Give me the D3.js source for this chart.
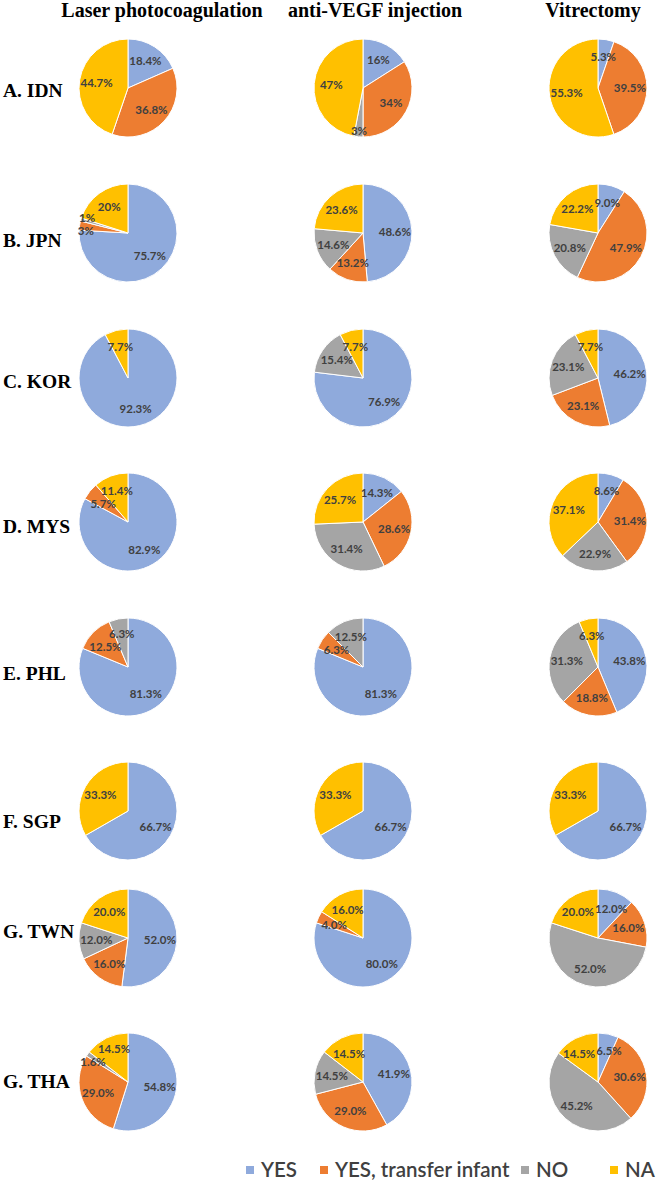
<!DOCTYPE html>
<html>
<head>
<meta charset="utf-8">
<script src="https://cdn.jsdelivr.net/npm/d3@7"></script>
<style>
  html, body { margin: 0; padding: 0; background: #ffffff; }
  svg { display: block; }
</style>
</head>
<body>
<script>
// ---------------- data ----------------
const countries = ["A. IDN", "B. JPN", "C. KOR", "D. MYS", "E. PHL", "F. SGP", "G. TWN", "G. THA"];
const treatments = ["Laser photocoagulation", "anti-VEGF injection", "Vitrectomy"];
const categories = ["YES", "YES, transfer infant", "NO", "NA"];

// values per country: [YES, YES transfer infant, NO, NA] (as printed, in %)
const laserValues = [
  ["18.4", "36.8", "0", "44.7"],
  ["75.7", "3", "1", "20"],
  ["92.3", "0", "0", "7.7"],
  ["82.9", "5.7", "0", "11.4"],
  ["81.3", "12.5", "6.3", "0"],
  ["66.7", "0", "0", "33.3"],
  ["52.0", "16.0", "12.0", "20.0"],
  ["54.8", "29.0", "1.6", "14.5"]
];
const antiVegfValues = [
  ["16", "34", "3", "47"],
  ["48.6", "13.2", "14.6", "23.6"],
  ["76.9", "0", "15.4", "7.7"],
  ["14.3", "28.6", "31.4", "25.7"],
  ["81.3", "6.3", "12.5", "0"],
  ["66.7", "0", "0", "33.3"],
  ["80.0", "4.0", "0", "16.0"],
  ["41.9", "29.0", "14.5", "14.5"]
];
const vitrectomyValues = [
  ["5.3", "39.5", "0", "55.3"],
  ["9.0", "47.9", "20.8", "22.2"],
  ["46.2", "23.1", "23.1", "7.7"],
  ["8.6", "31.4", "22.9", "37.1"],
  ["43.8", "18.8", "31.3", "6.3"],
  ["66.7", "0", "0", "33.3"],
  ["12.0", "16.0", "52.0", "20.0"],
  ["6.5", "30.6", "45.2", "14.5"]
];

// ---------------- layout / style ----------------
const W = 656, H = 1181;
const colors = ["#8FAADC", "#ED7D31", "#A5A5A5", "#FFC000"];
const colX = [128, 363, 598];
const rowY = [88, 233, 378, 522, 667, 811, 938, 1082];
const rowLabelBaseline = [97, 247, 388, 533, 680, 828, 938, 1088];
const headerX = [162, 375, 593];
const R = 49;

const svg = d3.select("body").append("svg")
  .attr("width", W).attr("height", H);

const color = d3.scaleOrdinal().domain(categories).range(colors);

// headers
svg.selectAll("text.header").data(treatments).join("text")
  .attr("class", "header")
  .attr("x", (d, i) => headerX[i])
  .attr("y", 17)
  .attr("text-anchor", "middle")
  .style("font-family", "'Liberation Serif', 'Times New Roman', serif")
  .style("font-weight", "bold")
  .style("font-size", "20px")
  .attr("fill", "#000")
  .text(d => d);

// row labels
svg.selectAll("text.rowlab").data(countries).join("text")
  .attr("class", "rowlab")
  .attr("x", 3)
  .attr("y", (d, i) => rowLabelBaseline[i])
  .style("font-family", "'Liberation Serif', 'Times New Roman', serif")
  .style("font-weight", "bold")
  .style("font-size", "19.5px")
  .attr("fill", "#000")
  .text(d => d);

const pie = d3.pie().sort(null).value(d => +d.v);
const arc = d3.arc().innerRadius(0).outerRadius(R);
const labelArc = d3.arc().innerRadius(R * 0.65).outerRadius(R * 0.65);
const smallLabelArc = d3.arc().innerRadius(R * 0.87).outerRadius(R * 0.87);

const tables = [laserValues, antiVegfValues, vitrectomyValues];

tables.forEach((table, ci) => {
  table.forEach((row, ri) => {
    const data = row.map((v, k) => ({ v: v, cat: categories[k] }));
    const arcs = pie(data).filter(a => +a.data.v > 0);
    const g = svg.append("g")
      .attr("transform", `translate(${colX[ci]},${rowY[ri]})`);
    g.selectAll("path").data(arcs).join("path")
      .attr("d", arc)
      .attr("fill", d => color(d.data.cat))
      .attr("stroke", "#ffffff")
      .attr("stroke-width", 1);
    const labels = g.selectAll("text").data(arcs).join("text")
      .attr("text-anchor", "middle")
      .attr("dy", "0.36em")
      .style("font-family", "Lato, 'Open Sans', sans-serif")
      .style("font-weight", "bold")
      .style("font-size", "11.5px")
      .attr("fill", "#404040")
      .text(d => d.data.v + "%");
    // initial positions
    const nodes = [];
    labels.each(function (d) {
      const c = (+d.data.v < 3.5 ? smallLabelArc : labelArc).centroid(d);
      nodes.push({ x: c[0], y: c[1], w: this.getComputedTextLength(), h: 12, el: this });
    });
    // simple collision resolution
    for (let it = 0; it < 40; it++) {
      let moved = false;
      for (let i = 0; i < nodes.length; i++) {
        for (let j = i + 1; j < nodes.length; j++) {
          const a = nodes[i], b = nodes[j];
          const dx = b.x - a.x, dy = b.y - a.y;
          const ox = (a.w + b.w) / 2 + 1 - Math.abs(dx);
          const oy = (a.h + b.h) / 2 + 1 - Math.abs(dy);
          if (ox > 0 && oy > 0) {
            moved = true;
            if (ox < oy) {
              const s = (dx >= 0 ? 1 : -1) * ox / 2;
              a.x -= s; b.x += s;
            } else {
              const s = (dy >= 0 ? 1 : -1) * oy / 2;
              a.y -= s; b.y += s;
            }
          }
        }
      }
      if (!moved) break;
    }
    nodes.forEach(n => d3.select(n.el).attr("transform", `translate(${n.x},${n.y})`));
  });
});

// legend
const legendX = [246, 320, 521, 610];
const lg = svg.append("g");
categories.forEach((c, i) => {
  lg.append("rect")
    .attr("x", legendX[i]).attr("y", 1166)
    .attr("width", 8).attr("height", 8)
    .attr("fill", color(c));
  lg.append("text")
    .attr("x", legendX[i] + 15).attr("y", 1177)
    .style("font-family", "Lato, 'Open Sans', sans-serif")
    .style("font-size", "20.5px")
    .style("font-weight", "600")
    .attr("fill", "#404040")
    .text(c);
});
</script>
</body>
</html>
